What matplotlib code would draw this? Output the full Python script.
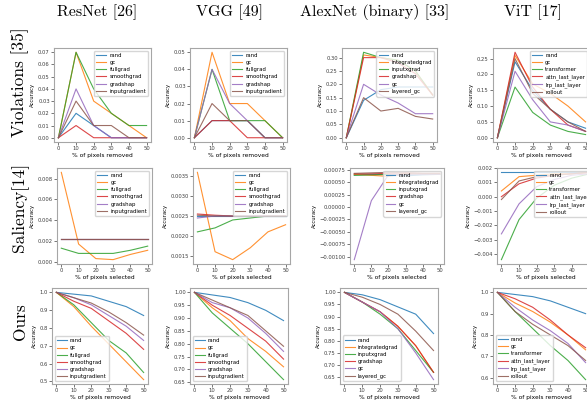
import matplotlib
matplotlib.use('Agg')
import matplotlib.pyplot as plt

x = [0, 10, 20, 30, 40, 50]

cnn_methods = ['rand', 'gc', 'fullgrad', 'smoothgrad', 'gradshap', 'inputgradient']
alex_methods = ['rand', 'integratedgrad', 'inputxgrad', 'gradshap', 'gc', 'layered_gc']
vit_methods = ['rand', 'gc', 'transformer', 'attn_last_layer', 'lrp_last_layer', 'rollout']

col_titles = ['ResNet [26]', 'VGG [49]', 'AlexNet (binary) [33]', 'ViT [17]']
row_titles = ['Violations [35]', 'Saliency[14]', 'Ours']
row_xlabels = ['% of pixels removed', '% of pixels selected', '% of pixels removed']

# row 1: violations
resnet_viol = [[0, 0.02, 0.01, 0.0, 0.0, 0.0],
               [0, 0.07, 0.03, 0.02, 0.01, 0.0],
               [0, 0.07, 0.04, 0.02, 0.01, 0.01],
               [0, 0.01, 0.0, 0.0, 0.0, 0.0],
               [0, 0.04, 0.01, 0.0, 0.0, 0.0],
               [0, 0.03, 0.01, 0.01, 0.0, 0.0]]
vgg_viol = [[0, 0.01, 0.01, 0.01, 0.0, 0.0],
            [0, 0.05, 0.02, 0.02, 0.01, 0.0],
            [0, 0.04, 0.01, 0.01, 0.01, 0.0],
            [0, 0.01, 0.01, 0.0, 0.0, 0.0],
            [0, 0.04, 0.02, 0.01, 0.0, 0.0],
            [0, 0.02, 0.01, 0.01, 0.0, 0.0]]
alex_viol = [[0, 0.14, 0.18, 0.19, 0.19, 0.19],
             [0, 0.31, 0.30, 0.29, 0.25, 0.16],
             [0, 0.32, 0.30, 0.29, 0.25, 0.16],
             [0, 0.30, 0.30, 0.28, 0.24, 0.16],
             [0, 0.20, 0.16, 0.13, 0.09, 0.09],
             [0, 0.15, 0.10, 0.11, 0.08, 0.07]]
vit_viol = [[0, 0.24, 0.15, 0.09, 0.05, 0.03],
            [0, 0.26, 0.17, 0.14, 0.10, 0.05],
            [0, 0.16, 0.08, 0.04, 0.02, 0.01],
            [0, 0.27, 0.16, 0.09, 0.04, 0.02],
            [0, 0.21, 0.12, 0.05, 0.04, 0.02],
            [0, 0.25, 0.14, 0.09, 0.05, 0.02]]

# row 2: saliency
resnet_sal = [[0.0022, 0.0022, 0.0022, 0.0022, 0.0022, 0.0022],
              [0.0086, 0.0017, 0.0003, 0.0002, 0.0007, 0.0011],
              [0.0013, 0.0008, 0.0008, 0.0008, 0.0011, 0.0015],
              [0.0022, 0.0022, 0.0022, 0.0022, 0.0022, 0.0022],
              [0.0022, 0.0022, 0.0022, 0.0022, 0.0022, 0.0022],
              [0.0022, 0.0022, 0.0022, 0.0022, 0.0022, 0.0022]]
vgg_sal = [[0.0025, 0.0025, 0.0025, 0.0025, 0.0025, 0.0025],
           [0.0036, 0.0016, 0.0014, 0.0017, 0.0021, 0.00228],
           [0.0021, 0.0022, 0.0024, 0.00245, 0.0025, 0.0025],
           [0.00255, 0.00252, 0.0025, 0.0025, 0.0025, 0.0025],
           [0.00245, 0.0025, 0.0025, 0.0025, 0.0025, 0.0025],
           [0.00252, 0.0025, 0.0025, 0.0025, 0.0025, 0.0025]]
alex_sal = [[0.00065, 0.00066, 0.00066, 0.00063, 0.00065, 0.00066],
            [0.00066, 0.00064, 0.00062, 0.00068, 0.00066, 0.00066],
            [0.00064, 0.00065, 0.00066, 0.00066, 0.00066, 0.00066],
            [0.00067, 0.00067, 0.00068, 0.00069, 0.00068, 0.00068],
            [-0.00106, 0.00013, 0.00065, 0.00066, 0.00066, 0.00066],
            [0.00068, 0.00069, 0.00070, 0.00069, 0.00068, 0.00068]]
vit_sal = [[0.0017, 0.0017, 0.0017, 0.0017, 0.0017, 0.0017],
           [0.0004, 0.0014, 0.0015, 0.0016, 0.0016, 0.0017],
           [-0.0044, -0.0016, -0.0001, 0.0008, 0.0013, 0.0016],
           [0.0, 0.0009, 0.0013, 0.0015, 0.0016, 0.0017],
           [-0.0026, -0.0005, 0.0007, 0.0012, 0.0015, 0.0016],
           [-0.0002, 0.0011, 0.0014, 0.0015, 0.0016, 0.0017]]

# row 3: ours
resnet_ours = [[1.0, 0.99, 0.98, 0.95, 0.92, 0.87],
               [1.0, 0.92, 0.81, 0.71, 0.61, 0.51],
               [1.0, 0.93, 0.83, 0.73, 0.66, 0.55],
               [1.0, 0.95, 0.91, 0.84, 0.77, 0.68],
               [1.0, 0.97, 0.93, 0.87, 0.81, 0.73],
               [1.0, 0.97, 0.94, 0.89, 0.83, 0.76]]
vgg_ours = [[1.0, 0.99, 0.98, 0.96, 0.93, 0.89],
            [1.0, 0.94, 0.89, 0.82, 0.77, 0.71],
            [1.0, 0.92, 0.86, 0.80, 0.73, 0.66],
            [1.0, 0.95, 0.91, 0.86, 0.81, 0.74],
            [1.0, 0.96, 0.94, 0.90, 0.84, 0.77],
            [1.0, 0.97, 0.94, 0.91, 0.85, 0.79]]
alex_ours = [[1.0, 0.99, 0.97, 0.94, 0.91, 0.83],
             [1.0, 0.96, 0.92, 0.86, 0.78, 0.67],
             [1.0, 0.96, 0.91, 0.85, 0.76, 0.67],
             [1.0, 0.96, 0.92, 0.86, 0.78, 0.67],
             [1.0, 0.96, 0.92, 0.85, 0.75, 0.64],
             [1.0, 0.98, 0.95, 0.91, 0.84, 0.76]]
vit_ours = [[1.0, 0.99, 0.98, 0.96, 0.93, 0.90],
            [1.0, 0.95, 0.91, 0.86, 0.80, 0.73],
            [1.0, 0.91, 0.83, 0.75, 0.68, 0.59],
            [1.0, 0.97, 0.93, 0.87, 0.80, 0.74],
            [1.0, 0.93, 0.87, 0.82, 0.76, 0.67],
            [1.0, 0.91, 0.85, 0.80, 0.75, 0.68]]

panels = [[resnet_viol, vgg_viol, alex_viol, vit_viol],
          [resnet_sal, vgg_sal, alex_sal, vit_sal],
          [resnet_ours, vgg_ours, alex_ours, vit_ours]]
methods = [cnn_methods, cnn_methods, alex_methods, vit_methods]

W, H = 587, 401
# axes boxes in pixels (left, top, right, bottom)
boxes = [[(54, 48, 151, 142), (190, 48, 287, 142), (342, 48, 437, 142), (493, 48, 590, 142)],
         [(57, 168, 152, 264), (193, 168, 290, 264), (350, 168, 444, 264), (497, 168, 594, 264)],
         [(52, 288, 148, 384), (190, 288, 288, 384), (340, 288, 438, 384), (493, 288, 590, 384)]]

fig = plt.figure(figsize=(W / 100, H / 100), dpi=100)
colors = plt.rcParams['axes.prop_cycle'].by_key()['color']

for r in range(3):
    for c in range(4):
        l, t, rr, b = boxes[r][c]
        ax = fig.add_axes([l / W, 1 - b / H, (rr - l) / W, (b - t) / H])
        for i, ys in enumerate(panels[r][c]):
            ax.plot(x, ys, color=colors[i], lw=0.8, alpha=0.85, label=methods[c][i])
        ax.set_xticks(x)
        ax.tick_params(labelsize=3.8, length=2, width=0.5, pad=1, colors='0.25')
        for s in ax.spines.values():
            s.set_color('0.65')
            s.set_linewidth(0.8)
        ax.set_ylabel('Accuracy', fontsize=3.8, labelpad=2)
        ax.set_xlabel(row_xlabels[r], fontsize=4.2, labelpad=1)
        loc = 'lower left' if r == 2 else 'upper right'
        ax.legend(loc=loc, fontsize=3.9, labelspacing=0.4, handlelength=1.8,
                  handletextpad=0.6, borderpad=0.4, framealpha=0.8,
                  edgecolor='0.8', fancybox=True)

title_x = [97, 229, 375, 533]
for c in range(4):
    fig.text(title_x[c] / W, 1 - 12 / H, col_titles[c], family='cmr10',
             fontsize=11.5, ha='center', va='center')

row_y = [82, 207, 322]
for r in range(3):
    fig.text(20 / W, 1 - row_y[r] / H, row_titles[r], family='cmr10',
             fontsize=12.5, ha='center', va='center', rotation=90)

fig.savefig('out.png', dpi=100)
